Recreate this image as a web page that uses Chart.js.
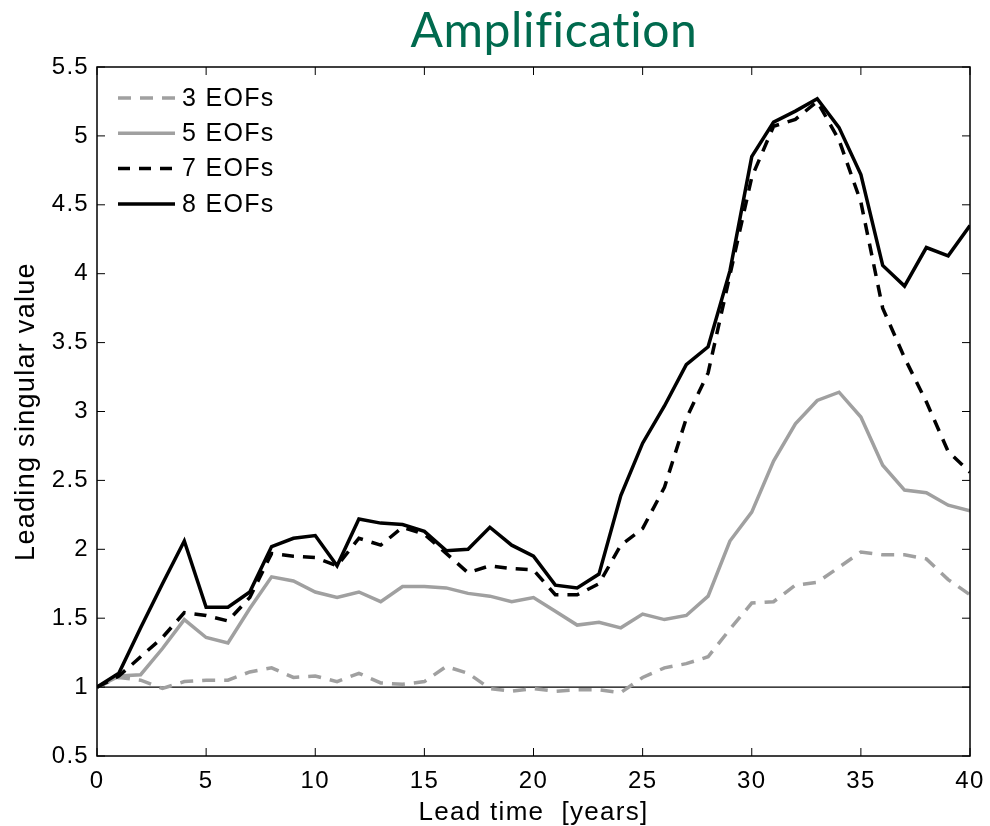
<!DOCTYPE html>
<html>
<head>
<meta charset="utf-8">
<script src="https://cdn.jsdelivr.net/npm/chart.js"></script>
<style>
  body { margin: 0; background: #fff; }
  #wrap { width: 990px; height: 826px; }
</style>
</head>
<body>
<div id="wrap"><canvas id="myChart" width="990" height="826"></canvas></div>
<script>
// Lead time in years (x-axis)
var leadTime = [0,1,2,3,4,5,6,7,8,9,10,11,12,13,14,15,16,17,18,19,20,
                21,22,23,24,25,26,27,28,29,30,31,32,33,34,35,36,37,38,39,40];
// Leading singular value per truncation
var eof3 = [1.00,1.07,1.05,0.99,1.04,1.05,1.05,1.11,1.14,1.07,
            1.08,1.04,1.10,1.03,1.02,1.04,1.15,1.10,0.99,0.97,
            0.99,0.97,0.98,0.98,0.96,1.07,1.14,1.17,1.22,1.42,
            1.61,1.62,1.74,1.76,1.87,1.98,1.96,1.96,1.93,1.78,1.67];
var eof5 = [1.00,1.08,1.09,1.28,1.49,1.36,1.32,1.57,1.80,1.77,
            1.69,1.65,1.69,1.62,1.73,1.73,1.72,1.68,1.66,1.62,
            1.65,1.55,1.45,1.47,1.43,1.53,1.49,1.52,1.66,2.06,
            2.27,2.64,2.91,3.08,3.14,2.96,2.61,2.43,2.41,2.32,2.28];
var eof7 = [1.00,1.08,1.22,1.36,1.54,1.52,1.48,1.65,1.97,1.95,
            1.94,1.88,2.08,2.03,2.16,2.11,1.97,1.83,1.88,1.86,
            1.85,1.67,1.67,1.75,2.03,2.15,2.45,2.95,3.28,3.99,
            4.70,5.07,5.12,5.25,4.97,4.52,3.75,3.39,3.07,2.71,2.56];
var eof8 = [1.00,1.10,1.43,1.75,2.06,1.58,1.58,1.69,2.02,2.08,
            2.10,1.88,2.22,2.19,2.18,2.13,1.99,2.00,2.16,2.03,
            1.95,1.74,1.72,1.82,2.39,2.77,3.04,3.34,3.47,4.02,
            4.85,5.10,5.18,5.27,5.06,4.72,4.06,3.91,4.19,4.13,4.35];
var seriesNames = ["3 EOFs", "5 EOFs", "7 EOFs", "8 EOFs"];

var GRAY = "#a0a0a0";
var FONT = "'Liberation Sans', Arial, sans-serif";
var SPACING = "1.3px";

function pts(vals) {
  return leadTime.map(function (t, i) { return { x: t, y: vals[i] }; });
}

// MATLAB style frame: box, inward ticks, y=1 line, legend, title
var frame = {
  id: 'frame',
  beforeDraw: function (chart) {
    chart.ctx.letterSpacing = SPACING;
  },
  beforeDatasetsDraw: function (chart) {
    var ctx = chart.ctx, a = chart.chartArea;
    var y1 = chart.scales.y.getPixelForValue(1);
    ctx.save();
    ctx.strokeStyle = "#000";
    ctx.lineWidth = 1.2;
    ctx.beginPath();
    ctx.moveTo(a.left, y1);
    ctx.lineTo(a.right, y1);
    ctx.stroke();
    ctx.restore();
  },
  afterDraw: function (chart) {
    var ctx = chart.ctx, a = chart.chartArea;
    var xs = chart.scales.x, ys = chart.scales.y;
    ctx.save();
    ctx.strokeStyle = "#000";
    ctx.lineWidth = 1.5;
    ctx.strokeRect(a.left, a.top, a.right - a.left, a.bottom - a.top);
    ctx.lineWidth = 1;
    ctx.beginPath();
    xs.ticks.forEach(function (t) {
      var px = xs.getPixelForValue(t.value);
      ctx.moveTo(px, a.bottom); ctx.lineTo(px, a.bottom - 8);
      ctx.moveTo(px, a.top); ctx.lineTo(px, a.top + 8);
    });
    ys.ticks.forEach(function (t) {
      var py = ys.getPixelForValue(t.value);
      ctx.moveTo(a.left, py); ctx.lineTo(a.left + 8, py);
      ctx.moveTo(a.right, py); ctx.lineTo(a.right - 8, py);
    });
    ctx.stroke();

    // legend inside the axes, top-left
    ctx.font = "25px " + FONT;
    ctx.letterSpacing = SPACING;
    ctx.textBaseline = "middle";
    ctx.fillStyle = "#000";
    chart.data.datasets.forEach(function (ds, i) {
      var y = a.top + 31 + i * 35.3;
      ctx.strokeStyle = ds.borderColor;
      ctx.lineWidth = ds.borderWidth;
      ctx.setLineDash(ds.borderDash || []);
      ctx.beginPath();
      ctx.moveTo(a.left + 21, y);
      ctx.lineTo(a.left + 78, y);
      ctx.stroke();
      ctx.setLineDash([]);
      ctx.fillText(ds.label, a.left + 85, y + 1);
    });

    // title
    ctx.font = "48px Lato, 'Open Sans', sans-serif";
    ctx.letterSpacing = "0.6px";
    ctx.fillStyle = "#006a4e";
    ctx.textAlign = "center";
    ctx.textBaseline = "alphabetic";
    ctx.fillText("Amplification", 554, 47);
    ctx.restore();
  }
};

var ctx = document.getElementById("myChart");
var myChart = new Chart(ctx, {
  type: 'line',
  data: {
    datasets: [
      { label: seriesNames[0], data: pts(eof3), borderColor: GRAY, borderWidth: 3.5,
        borderDash: [13, 9], order: 4 },
      { label: seriesNames[1], data: pts(eof5), borderColor: GRAY, borderWidth: 3.5,
        order: 3 },
      { label: seriesNames[2], data: pts(eof7), borderColor: "#000", borderWidth: 3.5,
        borderDash: [12, 9], order: 2 },
      { label: seriesNames[3], data: pts(eof8), borderColor: "#000", borderWidth: 3.5,
        order: 1 }
    ]
  },
  options: {
    responsive: false,
    animation: false,
    layout: { padding: { top: 67, right: 20, left: 0, bottom: 0 } },
    elements: { point: { radius: 0 }, line: { tension: 0, fill: false, borderCapStyle: 'butt' } },
    plugins: {
      legend: { display: false },
      tooltip: { enabled: false }
    },
    scales: {
      x: {
        type: 'linear', min: 0, max: 40,
        grid: { display: false, drawTicks: false },
        border: { display: false },
        ticks: { stepSize: 5, color: "#000", padding: 11, maxRotation: 0,
                 font: { family: FONT, size: 24 } },
        title: { display: true, text: "Lead time  [years]", color: "#000",
                 font: { family: FONT, size: 26, lineHeight: 1 }, padding: { top: 0, bottom: 0 } },
        afterFit: function (s) { s.height = 70; s.paddingRight = 0; }
      },
      y: {
        min: 0.5, max: 5.5,
        grid: { display: false, drawTicks: false },
        border: { display: false },
        ticks: { stepSize: 0.5, color: "#000", padding: 8,
                 font: { family: FONT, size: 24 },
                 callback: function (v) { return String(+v.toFixed(1)); } },
        title: { display: true, text: "Leading singular value", color: "#000",
                 font: { family: FONT, size: 27, lineHeight: 1 }, padding: { top: 13, bottom: 0 } },
        afterFit: function (s) { s.width = 97; }
      }
    }
  },
  plugins: [frame]
});
</script>
</body>
</html>
